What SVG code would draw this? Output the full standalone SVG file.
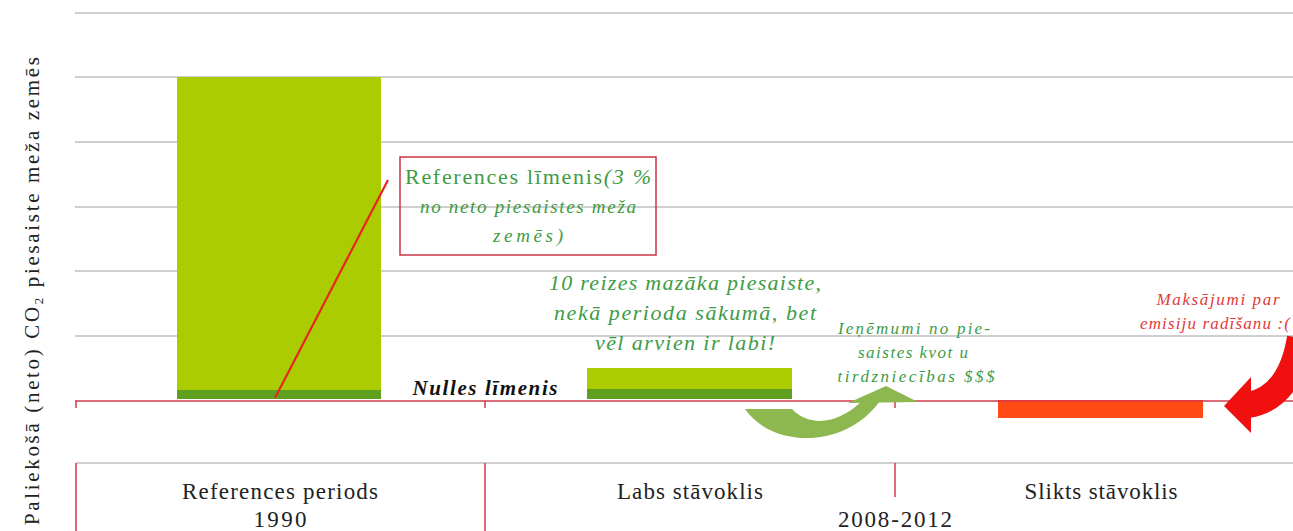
<svg xmlns="http://www.w3.org/2000/svg" width="1293" height="531" viewBox="0 0 1293 531">
<style>
.grid{stroke:#BFBFBF;stroke-width:1.5;fill:none}
.red{stroke:#D0384A;stroke-width:1.5;fill:none}
.axis{font-family:"Liberation Serif",serif;fill:#222}
.gt{font-family:"Liberation Serif",serif;font-style:italic;fill:#3E9B45}
.rt{font-family:"Liberation Serif",serif;font-style:italic;fill:#E23A3A}
</style>
<rect width="1293" height="531" fill="#fff"/>
<g id="gridlines">
<line class="grid" x1="75" y1="13" x2="1293" y2="13"/>
<line class="grid" x1="75" y1="77" x2="1293" y2="77"/>
<line class="grid" x1="75" y1="142" x2="1293" y2="142"/>
<line class="grid" x1="75" y1="207" x2="1293" y2="207"/>
<line class="grid" x1="75" y1="271" x2="1293" y2="271"/>
<line class="grid" x1="75" y1="336" x2="1293" y2="336"/>
<line class="grid" x1="76" y1="463" x2="1293" y2="463"/>
</g>
<g id="axis-label">
<text class="axis" font-size="21" transform="translate(39,291) rotate(-90)" text-anchor="middle" textLength="468" lengthAdjust="spacing">Paliekošā (neto) CO<tspan font-size="13" dy="4">2</tspan><tspan dy="-4"> piesaiste meža zemēs</tspan></text>
</g>
<g id="bar-reference">
<rect x="177" y="77" width="204" height="322" fill="#AACC00"/>
<rect x="177" y="390" width="204" height="9" fill="#5E9F20"/>
</g>
<g id="bar-good">
<rect x="587" y="368" width="205" height="31" fill="#AACC00"/>
<rect x="587" y="389" width="205" height="10" fill="#5E9F20"/>
</g>
<g id="bar-bad">
<rect x="998" y="400" width="205" height="18" fill="#FF4A14"/>
</g>
<g id="zero-axis">
<line class="red" x1="75" y1="401" x2="1293" y2="401"/>
<line class="red" x1="76" y1="401" x2="76" y2="408"/>
<line class="red" x1="485" y1="401" x2="485" y2="408"/>
<line class="red" x1="895" y1="401" x2="895" y2="408"/>
<line class="red" x1="76" y1="463" x2="76" y2="531"/>
<line class="red" x1="485" y1="463" x2="485" y2="531"/>
<line class="red" x1="895" y1="463" x2="895" y2="497"/>
</g>
<g id="connectors">
<line x1="275" y1="398" x2="388" y2="180" stroke="#E8261E" stroke-width="2.2"/>
<path d="M 745,409 C 772,448 845,450 880,401 L 862,401 C 836,426 808,426 792,409 Z" fill="#8DB84F"/>
<polygon points="848,403 886,386 918,402" fill="#8DB84F"/>
<path d="M 1248,405 Q 1290,398 1300,338" stroke="#F01010" stroke-width="26" fill="none"/>
<polygon points="1251,377 1224,406 1251,433" fill="#F01010"/>
</g>
<g id="node-reference-level">
<rect x="400" y="157" width="256" height="98" fill="none" stroke="#CC3344" stroke-width="1.5"/>
<text x="528" y="184" text-anchor="middle" font-family="Liberation Serif,serif" font-size="22" fill="#3E9B45" textLength="246" lengthAdjust="spacing"><tspan>References līmenis</tspan><tspan font-style="italic">(3 %</tspan></text>
<text class="gt" x="528" y="213" text-anchor="middle" font-size="19" textLength="216" lengthAdjust="spacing">no neto piesaistes meža</text>
<text class="gt" x="528" y="242" text-anchor="middle" font-size="19" textLength="70" lengthAdjust="spacing">zemēs)</text>
</g>
<g id="node-ten-times">
<text class="gt" x="685" y="290" text-anchor="middle" font-size="22" textLength="272" lengthAdjust="spacing">10 reizes mazāka piesaiste,</text>
<text class="gt" x="685" y="320" text-anchor="middle" font-size="22" textLength="262" lengthAdjust="spacing">nekā perioda sākumā, bet</text>
<text class="gt" x="685" y="350" text-anchor="middle" font-size="22" textLength="180" lengthAdjust="spacing">vēl arvien ir labi!</text>
</g>
<g id="node-zero-level">
<text x="485" y="395" text-anchor="middle" font-family="Liberation Serif,serif" font-style="italic" font-weight="bold" font-size="21" fill="#111" textLength="145" lengthAdjust="spacing">Nulles līmenis</text>
</g>
<g id="node-revenue">
<text class="gt" x="914" y="334" text-anchor="middle" font-size="17" textLength="152" lengthAdjust="spacing">Ieņēmumi no pie-</text>
<text class="gt" x="913" y="358" text-anchor="middle" font-size="17" textLength="110" lengthAdjust="spacing">saistes kvot u</text>
<text class="gt" x="916" y="382" text-anchor="middle" font-size="17" textLength="157" lengthAdjust="spacing">tirdzniecības $$$</text>
</g>
<g id="node-payments">
<text class="rt" x="1218" y="305" text-anchor="middle" font-size="17" textLength="123" lengthAdjust="spacing">Maksājumi par</text>
<text class="rt" x="1140" y="329" font-size="17" textLength="150" lengthAdjust="spacing">emisiju radīšanu :(</text>
</g>
<g id="category-labels">
<text class="axis" x="280" y="499" text-anchor="middle" font-size="23" textLength="196" lengthAdjust="spacing">References periods</text>
<text class="axis" x="280" y="527" text-anchor="middle" font-size="23" textLength="53" lengthAdjust="spacing">1990</text>
<text class="axis" x="690" y="499" text-anchor="middle" font-size="23" textLength="146" lengthAdjust="spacing">Labs stāvoklis</text>
<text class="axis" x="895" y="527" text-anchor="middle" font-size="23" textLength="114" lengthAdjust="spacing">2008-2012</text>
<text class="axis" x="1101" y="499" text-anchor="middle" font-size="23" textLength="153" lengthAdjust="spacing">Slikts stāvoklis</text>
</g>
</svg>
